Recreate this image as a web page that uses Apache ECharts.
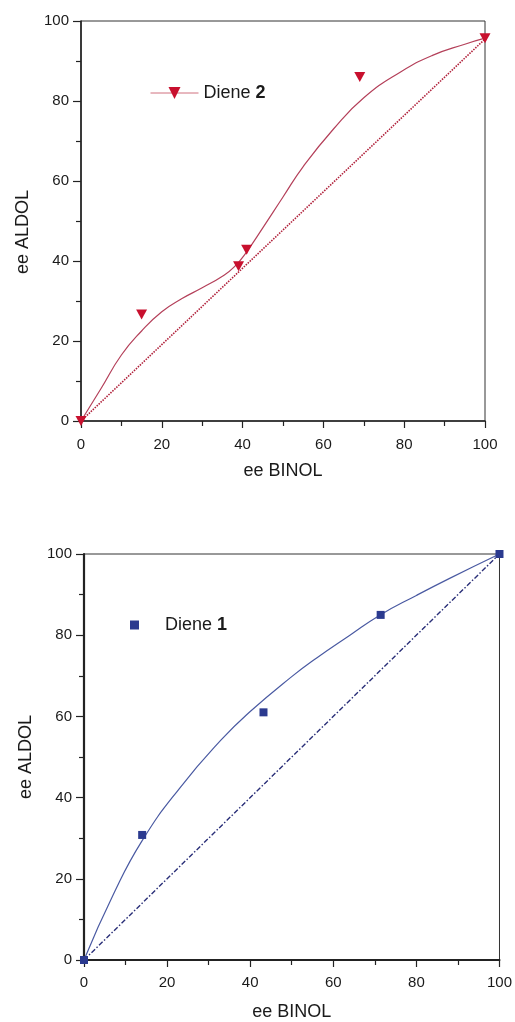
<!DOCTYPE html>
<html>
<head>
<meta charset="utf-8">
<script src="https://cdn.jsdelivr.net/npm/echarts@6/dist/echarts.min.js"></script>
<style>
html,body{margin:0;padding:0;background:#fff;}
#chart{width:515px;height:1022px;}
</style>
</head>
<body>
<div id="chart"></div>
<script>
// ---- Top chart (Diene 2) ----
const topPointsX = [0, 15, 39, 41, 69, 100];
const topPointsY = [0, 26.6, 38.7, 42.8, 86, 95.7];
const topFitX = [0, 5, 10, 15, 20, 25, 30, 35, 38, 41, 45, 50, 55, 62.5, 70, 79, 87, 95, 100];
const topFitY = [0, 8.2, 16.5, 22.5, 27.3, 30.6, 33.3, 36.2, 38.6, 42.3, 48.3, 56, 63.6, 73, 80.8, 87.2, 91.4, 94.2, 95.7];
const topDiagX = [0, 100];
const topDiagY = [0, 95.5];

// ---- Bottom chart (Diene 1) ----
const botPointsX = [0, 14, 43.2, 71.4, 100];
const botPointsY = [0, 30.8, 61, 85, 100];
const botFitX = [0, 7, 14, 23, 33, 40, 50, 56, 64, 71.3, 80, 88, 100];
const botFitY = [0, 16, 29.4, 42.3, 54.2, 61.2, 69.8, 74.4, 80, 85, 89.8, 94, 100];
const botDiagX = [0, 100];
const botDiagY = [0, 100];

// ---- Axis ticks / labels ----
const axisMin = 0, axisMax = 100, axisStep = 20;
const xTitle = 'ee BINOL';
const yTitle = 'ee ALDOL';
const topLegendName = 'Diene 2';
const botLegendName = 'Diene 1';

const pairs = (xs, ys) => xs.map((x, i) => [x, ys[i]]);

const FONT = '"Liberation Sans", Arial, sans-serif';
const TXT = '#1a1a1a';

function xAxis(gi, lw, margin, gap) {
  return {
    gridIndex: gi, type: 'value', min: axisMin, max: axisMax, interval: axisStep,
    name: xTitle, nameLocation: 'middle', nameGap: gap,
    nameTextStyle: {fontFamily: FONT, fontSize: 18, color: TXT},
    axisLine: {show: true, onZero: false, lineStyle: {color: '#222', width: lw}},
    axisTick: {show: true, inside: false, length: 7, lineStyle: {color: '#222', width: 1.2}},
    minorTick: {show: true, splitNumber: 2, length: 5, lineStyle: {color: '#222', width: 1.2}},
    splitLine: {show: false},
    axisLabel: {fontFamily: FONT, fontSize: 15, color: TXT, margin: margin}
  };
}
function yAxis(gi, lw, pad) {
  return {
    gridIndex: gi, type: 'value', min: axisMin, max: axisMax, interval: axisStep,
    name: yTitle, nameLocation: 'middle', nameGap: 49,
    nameTextStyle: {fontFamily: FONT, fontSize: 18, color: TXT, padding: pad},
    axisLine: {show: true, onZero: false, lineStyle: {color: '#222', width: lw}},
    axisTick: {show: true, inside: false, length: 8, lineStyle: {color: '#222', width: 1.2}},
    minorTick: {show: true, splitNumber: 2, length: 5, lineStyle: {color: '#222', width: 1.2}},
    splitLine: {show: false},
    axisLabel: {fontFamily: FONT, fontSize: 15, color: TXT, margin: 12}
  };
}

const RED = '#c8102e';
const REDLINE = '#b4405a';
const BLUE = '#2b3a8f';
const BLUELINE = '#4a5aa2';

const option = {
  animation: false,
  backgroundColor: '#fff',
  grid: [
    {left: 81, top: 21, width: 404, height: 400, show: true, borderColor: '#333', borderWidth: 1, backgroundColor: 'transparent'},
    {left: 84, top: 554, width: 419, height: 409, show: true, borderColor: '#333', borderWidth: 1, backgroundColor: 'transparent'}
  ],
  xAxis: [xAxis(0, 1.6, 16, 41), xAxis(1, 2, 15, 43)],
  yAxis: [yAxis(0, 1.6, [0, 22, 0, 0]), yAxis(1, 2.2, 0)],
  legend: [
    {
      data: [topLegendName], left: 150, top: 84, orient: 'horizontal', padding: 0,
      itemWidth: 48, itemHeight: 15,
      lineStyle: {opacity: 1, width: 1, color: '#d0707f'},
      formatter: () => 'Diene {b|2}',
      textStyle: {fontFamily: FONT, fontSize: 18, color: TXT,
        rich: {b: {fontFamily: FONT, fontSize: 18, fontWeight: 'bold', color: TXT}}}
    },
    {
      data: [botLegendName], left: 130, top: 616, orient: 'horizontal', padding: 0,
      itemWidth: 9, itemHeight: 9, icon: 'rect',
      itemStyle: {opacity: 1},
      formatter: () => 'Diene {b|1}',
      textStyle: {fontFamily: FONT, fontSize: 18, color: TXT, padding: [0, 0, 0, 21],
        rich: {b: {fontFamily: FONT, fontSize: 18, fontWeight: 'bold', color: TXT}}}
    }
  ],
  series: [
    {
      name: 'fit2', type: 'line', xAxisIndex: 0, yAxisIndex: 0,
      data: pairs(topFitX, topFitY), smooth: 0.5, showSymbol: false, silent: true,
      lineStyle: {color: REDLINE, width: 1.2}, z: 2
    },
    {
      name: 'diag2', type: 'line', xAxisIndex: 0, yAxisIndex: 0,
      data: pairs(topDiagX, topDiagY), showSymbol: false, silent: true,
      lineStyle: {color: '#b0203a', width: 1.6, type: [1.5, 1.2]}, z: 2
    },
    {
      name: topLegendName, type: 'line', xAxisIndex: 0, yAxisIndex: 0,
      data: pairs(topPointsX, topPointsY), symbol: 'triangle', symbolRotate: 180,
      symbolSize: [11, 10], showSymbol: true, showAllSymbol: true,
      itemStyle: {color: RED, opacity: 1}, lineStyle: {opacity: 0, color: '#d0707f'}, z: 3
    },
    {
      name: 'fit1', type: 'line', xAxisIndex: 1, yAxisIndex: 1,
      data: pairs(botFitX, botFitY), smooth: 0.5, showSymbol: false, silent: true,
      lineStyle: {color: BLUELINE, width: 1.2}, z: 2
    },
    {
      name: 'diag1', type: 'line', xAxisIndex: 1, yAxisIndex: 1,
      data: pairs(botDiagX, botDiagY), showSymbol: false, silent: true,
      lineStyle: {color: '#2a2f78', width: 1.4, type: [5, 2, 1.5, 2]}, z: 2
    },
    {
      name: botLegendName, type: 'scatter', xAxisIndex: 1, yAxisIndex: 1,
      data: pairs(botPointsX, botPointsY), symbol: 'rect', symbolSize: 8,
      itemStyle: {color: BLUE, opacity: 1}, z: 3
    }
  ]
};

const chart = echarts.init(document.getElementById('chart'), null, {renderer: 'canvas'});
chart.setOption(option);
</script>
</body>
</html>
